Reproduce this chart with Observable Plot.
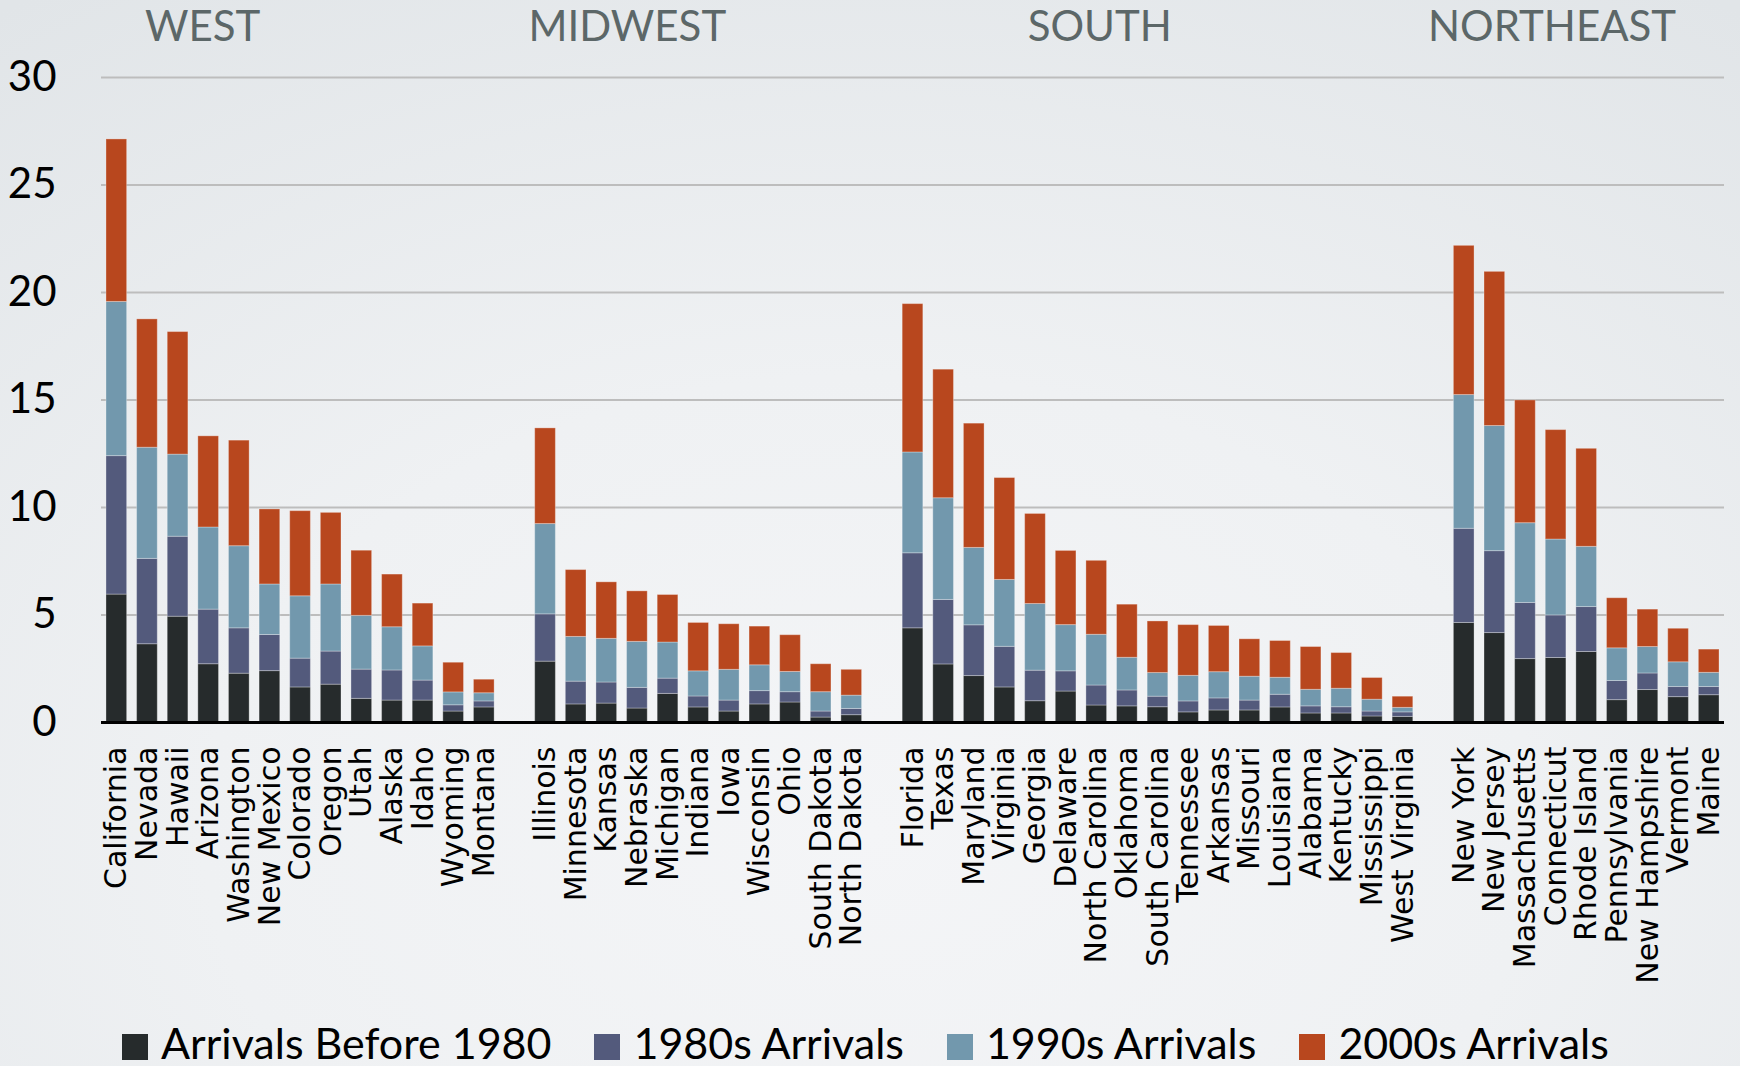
<!DOCTYPE html>
<html>
<head>
<meta charset="utf-8">
<script src="https://cdn.jsdelivr.net/npm/d3@7"></script>
<script src="https://cdn.jsdelivr.net/npm/@observablehq/plot@0.6"></script>
<style>
  html, body { margin: 0; padding: 0; overflow: hidden; }
  body {
    width: 1740px; height: 1066px;
    background: radial-gradient(ellipse 85% 95% at 50% 78%, #f4f5f7 0%, #eff1f3 45%, #e1e5e8 100%);
  }
  #wrap { position: relative; width: 1740px; height: 1066px; }
  #chart svg { display: block; background: transparent; color: #000; }
  #legend {
    position: absolute; left: 122px; top: 1021px;
    display: flex; gap: 43px; white-space: nowrap;
    font-family: Lato, sans-serif; font-size: 43px; line-height: 43px; color: #000;
  }
  #legend .item { display: flex; align-items: baseline; }
  #legend .sw { display: inline-block; width: 26px; height: 26px; margin-right: 13px; position: relative; top: 1px; }
</style>
</head>
<body>
<div id="wrap">
  <div id="chart"></div>
  <div id="legend"></div>
</div>
<script>
const regions = ["WEST", "MIDWEST", "SOUTH", "NORTHEAST"];
const westStates = ["California","Nevada","Hawaii","Arizona","Washington","New Mexico","Colorado","Oregon","Utah","Alaska","Idaho","Wyoming","Montana"];
const midwestStates = ["Illinois","Minnesota","Kansas","Nebraska","Michigan","Indiana","Iowa","Wisconsin","Ohio","South Dakota","North Dakota"];
const southStates = ["Florida","Texas","Maryland","Virginia","Georgia","Delaware","North Carolina","Oklahoma","South Carolina","Tennessee","Arkansas","Missouri","Louisiana","Alabama","Kentucky","Mississippi","West Virginia"];
const northeastStates = ["New York","New Jersey","Massachusetts","Connecticut","Rhode Island","Pennsylvania","New Hampshire","Vermont","Maine"];

const seriesNames = ["Arrivals Before 1980", "1980s Arrivals", "1990s Arrivals", "2000s Arrivals"];
const seriesColors = ["#262b2c", "#535a7c", "#7298ad", "#b8471e"];

// values in the order West, Midwest, South, Northeast states
const before1980 = [
  5.95,3.64,4.92,2.71,2.27,2.39,1.63,1.76,1.10,1.02,1.02,0.51,0.70,
  2.83,0.84,0.88,0.65,1.33,0.70,0.51,0.84,0.93,0.23,0.34,
  4.38,2.70,2.16,1.63,0.99,1.44,0.79,0.75,0.71,0.47,0.56,0.56,0.70,0.42,0.42,0.28,0.26,
  4.63,4.16,2.95,3.00,3.28,1.04,1.51,1.18,1.27
];
const arrivals1980s = [
  6.44,3.97,3.72,2.54,2.11,1.68,1.34,1.54,1.36,1.40,0.93,0.29,0.28,
  2.20,1.06,0.98,0.96,0.71,0.51,0.51,0.62,0.48,0.28,0.29,
  3.49,3.00,2.36,1.89,1.42,0.94,0.93,0.74,0.49,0.51,0.56,0.46,0.59,0.33,0.29,0.23,0.21,
  4.38,3.81,2.61,1.98,2.09,0.89,0.77,0.47,0.38
];
const arrivals1990s = [
  7.17,5.17,3.82,3.82,3.82,2.35,2.90,3.12,2.50,2.01,1.59,0.60,0.38,
  4.20,2.08,2.03,2.14,1.68,1.17,1.43,1.20,0.94,0.90,0.62,
  4.69,4.73,3.60,3.11,3.10,2.15,2.36,1.52,1.10,1.19,1.22,1.11,0.79,0.77,0.86,0.55,0.21,
  6.22,5.82,3.71,3.53,2.80,1.52,1.23,1.15,0.66
];
const arrivals2000s = [
  7.56,5.97,5.70,4.24,4.91,3.49,3.96,3.33,3.03,2.45,1.99,1.38,0.63,
  4.45,3.11,2.63,2.35,2.21,2.25,2.12,1.80,1.71,1.30,1.20,
  6.90,5.98,5.78,4.74,4.19,3.45,3.44,2.47,2.40,2.36,2.15,1.74,1.71,1.99,1.66,1.01,0.52,
  6.94,7.17,5.71,5.09,4.56,2.33,1.74,1.56,1.08
];
const yTicks = [0, 5, 10, 15, 20, 25, 30];

// build table
const allStates = [...westStates, ...midwestStates, ...southStates, ...northeastStates];
const seriesValues = [before1980, arrivals1980s, arrivals1990s, arrivals2000s];
const table = [];
allStates.forEach((s, i) => {
  seriesNames.forEach((name, k) => table.push({state: s, series: name, value: seriesValues[k][i]}));
});
const xDomain = [...westStates, "gap1", ...midwestStates, "gap2", ...southStates, "gap3", ...northeastStates];

// region title placement (anchor state + nudge)
const titleMarks = [
  {region: regions[0], anchor: "Arizona", dx: -6},
  {region: regions[1], anchor: "Nebraska", dx: -10},
  {region: regions[2], anchor: "North Carolina", dx: 3},
  {region: regions[3], anchor: "Connecticut", dx: -4}
];

const H = 1020;
const chart = Plot.plot({
  width: 1740,
  height: H,
  marginLeft: 101,
  marginRight: 16,
  marginTop: 77,
  marginBottom: H - 722,
  style: {background: "transparent", color: "#000", overflow: "visible"},
  x: {domain: xDomain, paddingInner: 0.325, paddingOuter: 0.1625},
  y: {domain: [0, 30]},
  color: {domain: seriesNames, range: seriesColors},
  marks: [
    Plot.gridY(yTicks, {stroke: "#bdbdbd", strokeOpacity: 1, strokeWidth: 2}),
    Plot.barY(table, {x: "state", y: "value", fill: "series", stroke: "#ffffff", strokeOpacity: 0.3, strokeWidth: 1}),
    Plot.ruleY([0], {stroke: "#000", strokeWidth: 3}),
    Plot.axisY({ticks: yTicks, tickSize: 0, tickPadding: 45, fontSize: 42, fontFamily: "Lato", label: null, fill: "#000"}),
    Plot.axisX({
      tickRotate: -90, tickSize: 0, tickPadding: 24, fontSize: 30, fontFamily: "DejaVu Sans",
      label: null, fill: "#000",
      tickFormat: d => d.startsWith("gap") ? "" : d
    }),
    ...titleMarks.map(t => Plot.text([t], {
      x: () => t.anchor, text: "region", frameAnchor: "top", lineAnchor: "top",
      dy: -66, dx: t.dx, fontSize: 42, fontFamily: "Lato", fill: "#5c6768"
    }))
  ]
});
document.getElementById("chart").appendChild(chart);

const legend = document.getElementById("legend");
seriesNames.forEach((name, k) => {
  const item = document.createElement("div");
  item.className = "item";
  const sw = document.createElement("span");
  sw.className = "sw";
  sw.style.background = seriesColors[k];
  const label = document.createElement("span");
  label.textContent = name;
  item.appendChild(sw);
  item.appendChild(label);
  legend.appendChild(item);
});
</script>
</body>
</html>
